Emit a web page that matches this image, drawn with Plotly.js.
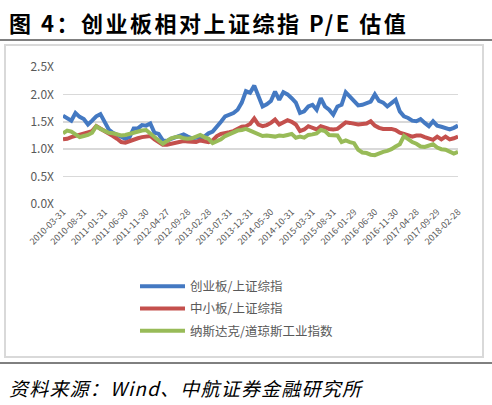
<!DOCTYPE html>
<html>
<head>
<meta charset="utf-8">
<script src="https://cdn.plot.ly/plotly-3.0.1.min.js"></script>
<style>
html,body{margin:0;padding:0;background:#fff;}
#chart{width:492px;height:405px;}
text[data-unformatted^="<b>图"]{letter-spacing:2.5px;}
text[data-unformatted^="<i>资料"]{letter-spacing:1.2px;}
</style>
</head>
<body>
<div id="chart"></div>
<script>
// Monthly dates 2010-03 .. 2018-02 (month-end labels)
const monthEnds = [
"2010-03-31","2010-04-30","2010-05-31","2010-06-30","2010-07-30","2010-08-31","2010-09-30","2010-10-29","2010-11-30","2010-12-31",
"2011-01-31","2011-02-28","2011-03-31","2011-04-29","2011-05-31","2011-06-30","2011-07-29","2011-08-31","2011-09-30","2011-10-31",
"2011-11-30","2011-12-30","2012-01-31","2012-02-29","2012-03-30","2012-04-27","2012-05-31","2012-06-29","2012-07-31","2012-08-31",
"2012-09-28","2012-10-31","2012-11-30","2012-12-31","2013-01-31","2013-02-28","2013-03-29","2013-04-26","2013-05-31","2013-06-28",
"2013-07-31","2013-08-30","2013-09-30","2013-10-31","2013-11-29","2013-12-31","2014-01-30","2014-02-28","2014-03-31","2014-04-30",
"2014-05-30","2014-06-30","2014-07-31","2014-08-29","2014-09-30","2014-10-31","2014-11-28","2014-12-31","2015-01-30","2015-02-27",
"2015-03-31","2015-04-30","2015-05-29","2015-06-30","2015-07-31","2015-08-31","2015-09-30","2015-10-30","2015-11-30","2015-12-31",
"2016-01-29","2016-02-29","2016-03-31","2016-04-29","2016-05-31","2016-06-30","2016-07-29","2016-08-31","2016-09-30","2016-10-31",
"2016-11-30","2016-12-30","2017-01-26","2017-02-28","2017-03-31","2017-04-28","2017-05-31","2017-06-30","2017-07-31","2017-08-31",
"2017-09-29","2017-10-31","2017-11-30","2017-12-29","2018-01-31","2018-02-28"
];

const tickLabels = [
"2010-03-31","2010-08-31","2011-01-31","2011-06-30","2011-11-30","2012-04-27","2012-09-28","2013-02-28","2013-07-31","2013-12-31",
"2014-05-30","2014-10-31","2015-03-31","2015-08-31","2016-01-29","2016-06-30","2016-11-30","2017-04-28","2017-09-29","2018-02-28"
];

const yTickVals = [0, 0.5, 1.0, 1.5, 2.0, 2.5];
const yTickText = ["0.0X","0.5X","1.0X","1.5X","2.0X","2.5X"];

const seriesNames = ["创业板/上证综指","中小板/上证综指","纳斯达克/道琼斯工业指数"];

const cybVsSh = [
1.61,1.57,1.52,1.66,1.59,1.55,1.45,1.52,1.60,1.64,
1.48,1.36,1.30,1.26,1.22,1.19,1.22,1.38,1.38,1.44,
1.43,1.47,1.30,1.28,1.16,1.15,1.19,1.22,1.25,1.27,
1.23,1.20,1.21,1.21,1.23,1.29,1.32,1.40,1.50,1.60,
1.63,1.66,1.72,1.85,2.06,2.03,2.16,1.95,1.78,1.82,
1.88,2.05,1.90,2.04,2.00,1.93,1.85,1.66,1.69,1.78,
1.81,1.72,1.93,1.78,1.72,1.63,1.78,1.81,2.04,1.96,
1.87,1.80,1.81,1.85,1.87,2.00,1.88,1.85,1.78,1.84,
1.90,1.69,1.60,1.57,1.52,1.51,1.55,1.48,1.42,1.51,
1.43,1.41,1.38,1.36,1.39,1.43
];

const zxbVsSh = [
1.18,1.19,1.22,1.24,1.26,1.28,1.31,1.33,1.42,1.38,
1.33,1.29,1.24,1.19,1.13,1.12,1.15,1.18,1.20,1.22,
1.23,1.24,1.18,1.14,1.08,1.08,1.10,1.12,1.14,1.15,
1.14,1.13,1.13,1.16,1.14,1.13,1.16,1.24,1.28,1.29,
1.31,1.33,1.37,1.41,1.42,1.46,1.56,1.45,1.42,1.44,
1.48,1.54,1.45,1.50,1.53,1.50,1.45,1.33,1.36,1.42,
1.38,1.36,1.42,1.39,1.37,1.36,1.37,1.43,1.49,1.48,
1.46,1.45,1.46,1.47,1.51,1.43,1.39,1.37,1.37,1.37,
1.35,1.30,1.28,1.25,1.23,1.25,1.25,1.22,1.19,1.17,
1.23,1.18,1.23,1.18,1.20,1.23
];

const nasdaqVsDow = [
1.29,1.34,1.32,1.27,1.22,1.24,1.26,1.30,1.42,1.37,
1.33,1.30,1.29,1.27,1.25,1.26,1.28,1.31,1.33,1.34,
1.35,1.28,1.21,1.16,1.10,1.15,1.20,1.22,1.23,1.20,
1.19,1.20,1.24,1.26,1.22,1.19,1.11,1.14,1.18,1.24,
1.28,1.31,1.34,1.35,1.37,1.34,1.30,1.27,1.24,1.25,
1.24,1.23,1.25,1.24,1.26,1.28,1.21,1.23,1.21,1.26,
1.27,1.29,1.35,1.33,1.26,1.25,1.25,1.13,1.16,1.13,
1.11,0.99,0.94,0.93,0.90,0.89,0.93,0.95,0.97,1.00,
1.05,1.09,1.24,1.18,1.13,1.10,1.05,1.04,1.06,1.09,
1.03,1.00,0.99,0.96,0.92,0.95
];

const colors = ["#4479C2","#C4504D","#98BB58"];
const seriesValues = [cybVsSh, zxbVsSh, nasdaqVsDow];

const traces = seriesValues.map((vals, k) => ({
  type: "scatter",
  mode: "lines",
  x: monthEnds,
  y: vals,
  name: seriesNames[k],
  legendgroup: "g" + k,
  line: {color: colors[k], width: 4},
  hoverinfo: "skip"
}));

// plot area geometry (px)
const L = 63, R = 458, T = 67, B = 204, W = 492, H = 405;
const pw = R - L, ph = B - T;
const px = v => (v - L) / pw;
const py = v => (B - v) / ph;

const layout = {
  width: W, height: H,
  margin: {l: L, r: W - R, t: T, b: H - B, pad: 0},
  paper_bgcolor: "#ffffff",
  plot_bgcolor: "#ffffff",
  font: {family: "Noto Sans CJK SC, sans-serif", color: "#595959"},
  showlegend: true,
  legend: {
    x: px(135), y: py(271.5), xanchor: "left", yanchor: "top",
    orientation: "v",
    font: {size: 12.5, color: "#595959", family: "Noto Sans CJK SC, sans-serif"},
    tracegroupgap: 3,
    itemwidth: 45,
    bgcolor: "rgba(0,0,0,0)"
  },
  xaxis: {
    type: "category",
    range: [0, monthEnds.length - 1],
    tickmode: "array",
    tickvals: tickLabels,
    ticktext: tickLabels,
    tickangle: -45,
    tickfont: {size: 9, color: "#595959"},
    showgrid: false,
    showline: false,
    ticks: "",
    zeroline: false,
    fixedrange: true
  },
  yaxis: {
    range: [0, 2.5],
    tickmode: "array",
    tickvals: yTickVals,
    ticktext: yTickText,
    tickfont: {size: 12, color: "#595959"},
    showgrid: true,
    gridcolor: "#d9d9d9",
    gridwidth: 1.5,
    zeroline: false,
    showline: false,
    ticks: "",
    ticklabelstandoff: 8,
    fixedrange: true
  },
  shapes: [
    {type: "line", xref: "paper", yref: "paper", x0: px(0), x1: px(W), y0: py(40), y1: py(40),
     line: {color: "#000000", width: 1}},
    {type: "rect", xref: "paper", yref: "paper", x0: px(5), x1: px(483), y0: py(45), y1: py(357),
     line: {color: "#d9d9d9", width: 2}, fillcolor: "rgba(0,0,0,0)", layer: "below"},
    {type: "line", xref: "paper", yref: "paper", x0: px(0), x1: px(W), y0: py(363), y1: py(363),
     line: {color: "#000000", width: 1}}
  ],
  annotations: [
    {xref: "paper", yref: "paper", x: px(7), y: py(22), xanchor: "left", yanchor: "middle",
     showarrow: false, text: "<b>图 4：创业板相对上证综指 P/E 估值</b>",
     font: {size: 22, color: "#000000", family: "Noto Sans CJK SC, sans-serif"}},
    {xref: "paper", yref: "paper", x: px(7), y: py(387), xanchor: "left", yanchor: "middle",
     showarrow: false, text: "<i>资料来源：Wind、中航证券金融研究所</i>",
     font: {size: 19, color: "#000000", family: "Noto Sans CJK SC, sans-serif"}}
  ]
};

Plotly.newPlot("chart", traces, layout, {displayModeBar: false, staticPlot: true});
</script>
</body>
</html>
